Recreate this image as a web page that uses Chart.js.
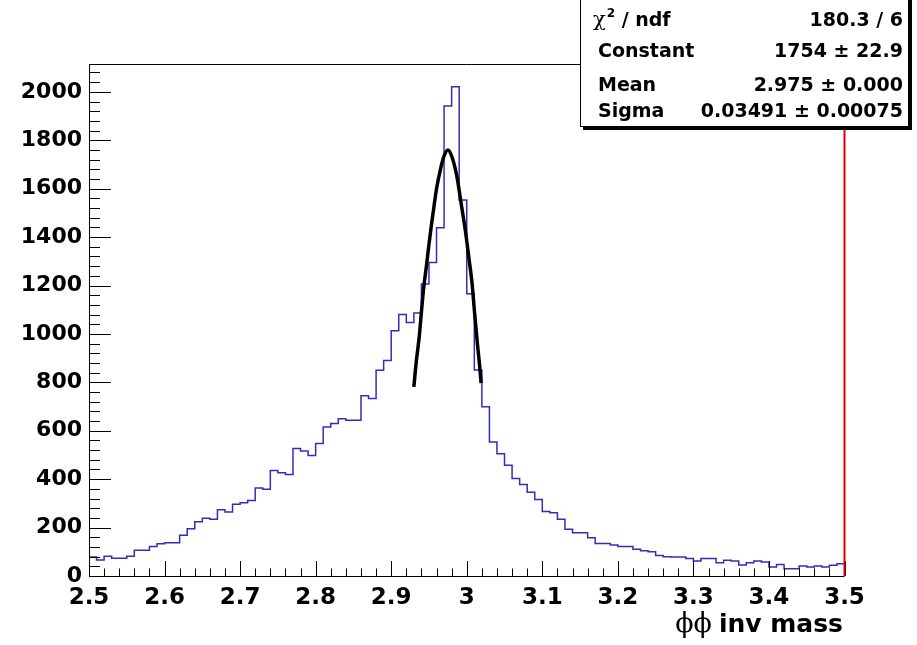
<!DOCTYPE html>
<html>
<head>
<meta charset="utf-8">
<title>phi phi inv mass</title>
<script src="https://cdn.jsdelivr.net/npm/chart.js@4.4.1/dist/chart.umd.min.js"></script>
<style>
body{margin:0;background:#fff;}
canvas{display:block;}
</style>
</head>
<body>
<canvas id="hist" width="917" height="645"></canvas>
<script>
/* DATA */
const binStart = 2.5;
const binWidth = 0.01;
const counts = [
  78, 66, 82, 73, 73, 82, 106, 106, 122, 133,
  137, 137, 168, 195, 224, 239, 234, 274, 264, 296,
  303, 312, 363, 358, 436, 426, 419, 527, 516, 498,
  547, 616, 630, 650, 643, 643, 745, 733, 850, 890,
  1013, 1080, 1047, 1086, 1206, 1295, 1439, 1941, 2021, 1553,
  1166, 851, 699, 554, 505, 458, 403, 378, 346, 316,
  266, 261, 234, 193, 179, 179, 158, 134, 134, 128,
  122, 122, 110, 104, 100, 85, 80, 78, 78, 72,
  62, 72, 72, 55, 65, 62, 45, 55, 62, 58,
  37, 48, 30, 30, 41, 37, 41, 37, 44, 51
];
// gaus fit curve
const fitX = [2.930, 2.933, 2.937, 2.940, 2.943, 2.947, 2.950, 2.953, 2.956, 2.960, 2.965, 2.970, 2.975,
              2.980, 2.987, 2.992, 2.998, 3.003, 3.007, 3.010, 3.014, 3.017, 3.019];
const fitY = [781, 880, 985, 1090, 1190, 1290, 1370, 1445, 1512, 1600, 1677, 1735, 1760,
              1735, 1650, 1550, 1430, 1310, 1210, 1100, 962, 870, 797];

const xTickValues = [2.5, 2.6, 2.7, 2.8, 2.9, 3.0, 3.1, 3.2, 3.3, 3.4, 3.5];
const xTickLabels = ["2.5", "2.6", "2.7", "2.8", "2.9", "3", "3.1", "3.2", "3.3", "3.4", "3.5"];
const yTickValues = [0, 200, 400, 600, 800, 1000, 1200, 1400, 1600, 1800, 2000];
const yTickLabels = ["0", "200", "400", "600", "800", "1000", "1200", "1400", "1600", "1800", "2000"];

const statNames = ["χ2 / ndf", "Constant", "Mean", "Sigma"];
const statValues = ["180.3 / 6", "1754 ± 22.9", "2.975 ± 0.000", "0.03491 ± 0.00075"];
const xTitle = "inv mass";

/* HIST POINTS */
const histPoints = counts.map((c, i) => ({x: binStart + i * binWidth, y: c}));
histPoints.push({x: binStart + counts.length * binWidth, y: counts[counts.length - 1]});
const fitPoints = fitX.map((v, i) => ({x: v, y: fitY[i]}));

/* FRAME + INSIDE TICKS (root style) */
const frameTicks = {
  id: "frameTicks",
  afterDatasetsDraw(chart){
    const {ctx, chartArea: a, scales: {x, y}} = chart;
    ctx.save();
    ctx.strokeStyle = "#000";
    ctx.lineWidth = 1;
    ctx.beginPath();
    for(let k = 0; k <= 60; k++){
      const py = Math.round(y.getPixelForValue(k * 40)) + 0.5;
      if(py < a.top) break;
      const len = k % 5 == 0 ? 22 : 11;
      ctx.moveTo(a.left, py);
      ctx.lineTo(a.left + len, py);
    }
    for(let k = 0; k <= 50; k++){
      const px = Math.round(x.getPixelForValue(binStart + k * 0.02)) + 0.5;
      const len = k % 5 == 0 ? 15 : 7.5;
      ctx.moveTo(px, a.bottom);
      ctx.lineTo(px, a.bottom - len);
    }
    // frame left, bottom, top
    ctx.moveTo(a.left + 0.5, a.top);
    ctx.lineTo(a.left + 0.5, a.bottom + 0.5);
    ctx.lineTo(a.right, a.bottom + 0.5);
    ctx.moveTo(a.left, a.top + 0.5);
    ctx.lineTo(a.right, a.top + 0.5);
    ctx.stroke();
    // red right edge
    ctx.strokeStyle = "#e00000";
    ctx.lineWidth = 2;
    ctx.beginPath();
    ctx.moveTo(a.right, a.top);
    ctx.lineTo(a.right, a.bottom);
    ctx.stroke();
    ctx.restore();
  }
};

/* STATS BOX + AXIS TITLE */
const statsBox = {
  id: "statsBox",
  afterDraw(chart){
    const ctx = chart.ctx;
    ctx.save();
    ctx.fillStyle = "#000";
    ctx.fillRect(583, 0, 329, 130);
    ctx.fillStyle = "#fff";
    ctx.fillRect(580, -1, 329, 128);
    ctx.strokeStyle = "#000";
    ctx.lineWidth = 1;
    ctx.strokeRect(580.5, -0.5, 328, 127);

    const rows = [26, 57, 91, 117];
    ctx.fillStyle = "#000";
    ctx.textBaseline = "alphabetic";
    // chi2 row
    ctx.textAlign = "left";
    ctx.font = '21px "DejaVu Serif"';
    ctx.fillText("χ", 593, rows[0]);
    let cx = 593 + ctx.measureText("χ").width;
    ctx.font = 'bold 12px "DejaVu Sans"';
    ctx.fillText("2", cx + 1, rows[0] - 9);
    cx += ctx.measureText("2").width + 1;
    ctx.font = 'bold 19px "DejaVu Sans"';
    ctx.fillText(" / ndf", cx, rows[0]);
    for(let i = 1; i < statNames.length; i++){
      ctx.fillText(statNames[i], 598, rows[i]);
    }
    ctx.textAlign = "right";
    for(let i = 0; i < statValues.length; i++){
      ctx.fillText(statValues[i], 903, rows[i]);
    }

    // x axis title
    ctx.font = 'bold 25px "DejaVu Sans"';
    ctx.fillText(xTitle, 843, 632);
    const w = ctx.measureText(xTitle).width;
    ctx.font = '27px "DejaVu Serif"';
    ctx.fillText("ϕϕ", 843 - w - 7, 632);
    ctx.restore();
  }
};

const tickFont = size => ({family: '"DejaVu Sans"', weight: "bold", size: size});

new Chart(document.getElementById("hist"), {
  type: "line",
  data: {
    datasets: [
      {data: fitPoints, borderColor: "#000", borderWidth: 3.5, cubicInterpolationMode: "monotone",
       pointRadius: 0, fill: false},
      {data: histPoints, borderColor: "#2f2fb8", borderWidth: 1.5, stepped: "before",
       pointRadius: 0, fill: false}
    ]
  },
  options: {
    responsive: false,
    animation: false,
    devicePixelRatio: 1,
    layout: {padding: {top: 64, right: 72.5, left: 0, bottom: 0}},
    plugins: {legend: {display: false}, tooltip: {enabled: false}},
    scales: {
      x: {
        type: "linear", min: 2.5, max: 3.5,
        grid: {display: false, drawTicks: false},
        border: {display: false},
        afterBuildTicks(s){ s.ticks = xTickValues.map(v => ({value: v})); },
        afterFit(s){ s.height = 69; },
        ticks: {padding: 8, color: "#000", font: tickFont(23), maxRotation: 0, autoSkip: false,
                callback: (v, i) => xTickLabels[i]}
      },
      y: {
        type: "linear", min: 0, max: 2115,
        grid: {display: false, drawTicks: false},
        border: {display: false},
        afterBuildTicks(s){ s.ticks = yTickValues.map(v => ({value: v})); },
        afterFit(s){ s.width = 89; },
        ticks: {padding: 7, color: "#000", font: tickFont(22), autoSkip: false,
                callback: (v, i) => yTickLabels[i]}
      }
    }
  },
  plugins: [frameTicks, statsBox]
});
</script>
</body>
</html>
